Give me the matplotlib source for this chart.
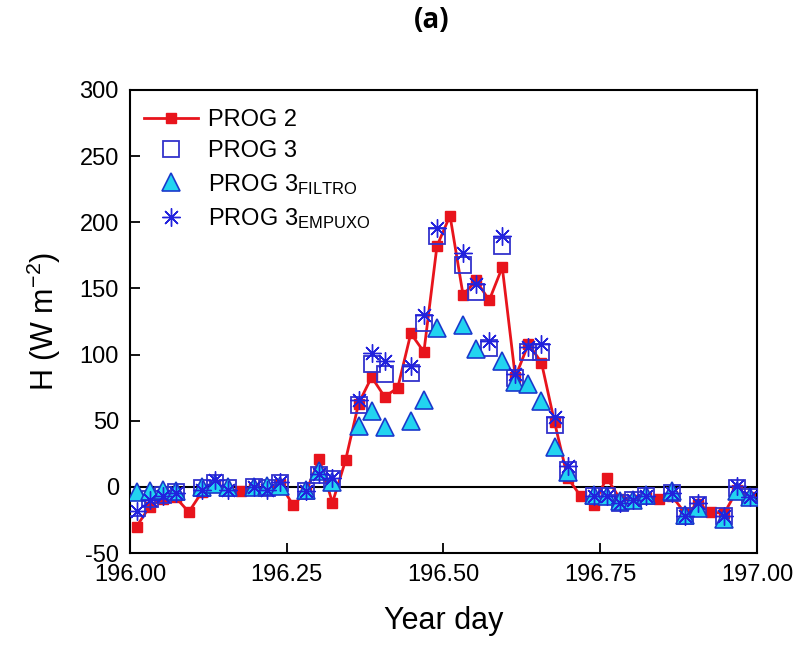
import numpy as np
import matplotlib
matplotlib.use('Agg')
import matplotlib.pyplot as plt

plt.rcParams['font.family'] = ['Liberation Sans', 'DejaVu Sans']
plt.rcParams['mathtext.fontset'] = 'custom'
plt.rcParams['mathtext.rm'] = 'Liberation Sans'
plt.rcParams['mathtext.it'] = 'Liberation Sans:italic'
plt.rcParams['axes.unicode_minus'] = False

nan = np.nan

# half-hourly values, day 196
year_day = 196 + (np.arange(48) + 0.5) / 48

prog2 = [-30, -15, -9, -8, -19, -4, 1, -2, -3, -1, -2, 2, -14, -3, 21, -12,
         20, 63, 83, 68, 75, 116, 102, 182, 205, 145, 156, 141, 166, 83, 108, 94,
         49, 7, -7, -14, 7, -9, -10, -8, -9, -7, -20, -13, -19, -20, -2, -8]
prog3 = [-16, -9, -6, -4, nan, -1, 3, -1, nan, 0, -1, 3, nan, -3, 9, 6,
         nan, 62, 93, 85, nan, 86, 124, 190, nan, 168, 147, 105, 182, 82, 102, 102,
         47, 13, nan, -7, -7, -12, -10, -7, nan, -5, -22, -14, nan, -22, -1, -8]
prog3_filtro = [-4, -3, -2, -3, nan, 0, 2, 0, nan, 0, 1, 1, nan, -2, 12, 4,
                nan, 46, 57, 45, nan, 50, 66, 120, nan, 122, 104, nan, 95, 79, 78, 65,
                30, 11, nan, -6, -7, -11, -10, -6, nan, -3, -21, -16, nan, -24, -3, -8]
prog3_empuxo = [-18, -10, -7, -5, nan, -2, 5, -2, nan, 0, -2, 4, nan, -3, 10, 7,
                nan, 66, 101, 95, nan, 91, 130, 196, nan, 177, 153, 110, 190, 85, 106, 108,
                53, 16, nan, -7, -7, -12, -10, -7, nan, -5, -22, -12, nan, -22, 1, -8]

fig = plt.figure(figsize=(7.99, 6.45), dpi=100)
ax = fig.add_axes([0.1627, 0.1426, 0.7847, 0.7179])

ax.axhline(0, color='black', lw=1.5, zorder=1)
ax.plot(year_day, prog2, '-s', color='#e8141c', lw=2, ms=7, mec='#e8141c',
        label='PROG 2', zorder=2)
ax.plot(year_day, prog3, 's', ms=11, mfc='none', mec='#3333cc', mew=1.3,
        label='PROG 3', zorder=3)
ax.plot(year_day, prog3_filtro, '^', ms=13, mfc='#22d4f0', mec='#1a3acc', mew=1.2,
        label='PROG 3$_{\\mathrm{FILTRO}}$', zorder=4)
ax.plot(year_day, prog3_empuxo, marker=(8, 2, 0), ls='none', ms=13, color='#2222dd',
        mew=1.0, label='PROG 3$_{\\mathrm{EMPUXO}}$', zorder=5)

ax.set_xlim(196.0, 197.0)
ax.set_ylim(-50, 300)
ax.set_xticks([196.0, 196.25, 196.5, 196.75, 197.0])
ax.set_xticklabels(['196.00', '196.25', '196.50', '196.75', '197.00'])
ax.set_yticks(range(-50, 301, 50))
ax.tick_params(direction='in', labelsize=17, length=7, width=1.3, pad=8)
for s in ax.spines.values():
    s.set_linewidth(1.5)

ax.set_xlabel('Year day', fontsize=22, labelpad=14)
ax.set_ylabel('H (W m$^{-2}$)', fontsize=22, labelpad=12)

ax.legend(loc='upper left', frameon=False, fontsize=17, handlelength=2.3,
          handletextpad=0.4, labelspacing=0.4, borderaxespad=0.2,
          bbox_to_anchor=(0.0, 0.99))

fig.text(432 / 799, 1 - 21 / 645, '(a)', ha='center', va='center',
         fontsize=20, fontweight='bold', family=['Open Sans', 'DejaVu Sans'])

fig.savefig('out.png', dpi=100)
